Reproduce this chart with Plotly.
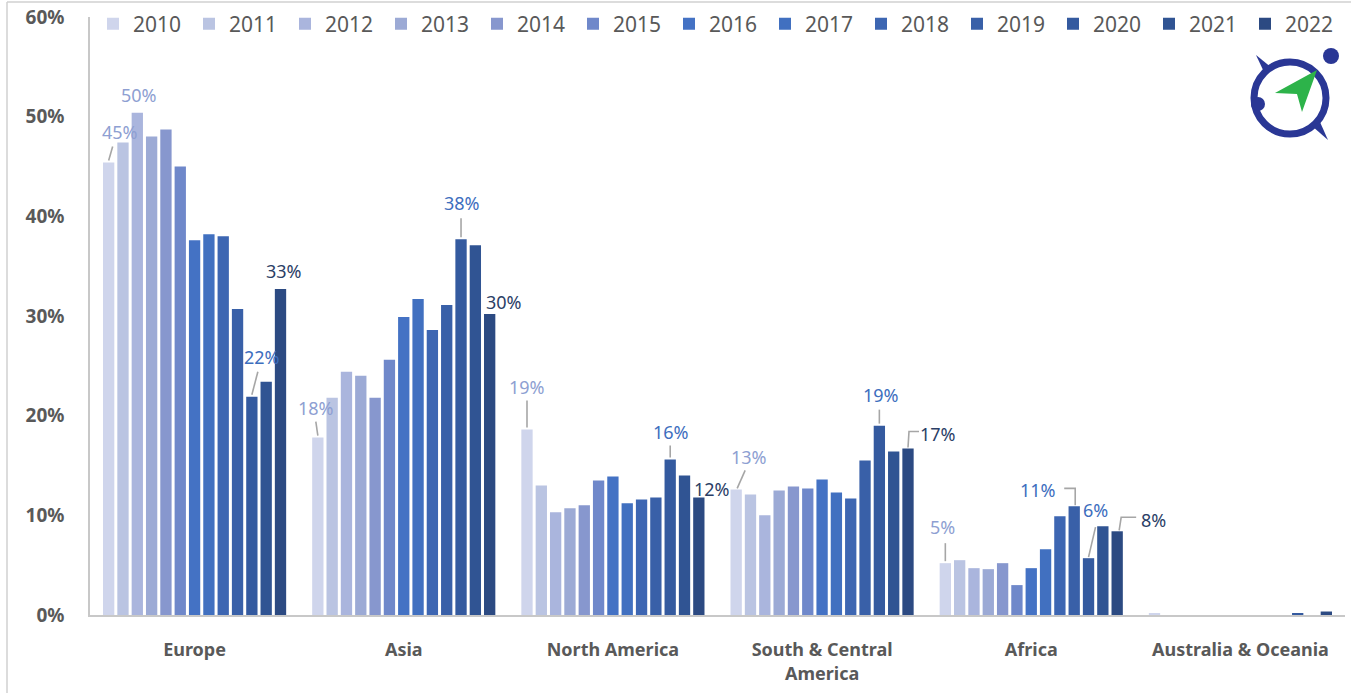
import plotly.graph_objects as go

# Share of installations by region, 2010-2022 (percent)
regions = ["Europe", "Asia", "North America", "South & Central<br>America", "Africa",
           "Australia & Oceania"]
years = ["2010", "2011", "2012", "2013", "2014", "2015", "2016",
         "2017", "2018", "2019", "2020", "2021", "2022"]

europe = [45.4, 47.4, 50.4, 48.0, 48.7, 45.0, 37.6, 38.2, 38.0, 30.7, 21.9, 23.4, 32.7]
asia = [17.8, 21.8, 24.4, 24.0, 21.8, 25.6, 29.9, 31.7, 28.6, 31.1, 37.7, 37.1, 30.2]
north_america = [18.6, 13.0, 10.3, 10.7, 11.0, 13.5, 13.9, 11.2, 11.6, 11.8, 15.6, 14.0, 11.8]
south_central_america = [12.6, 12.1, 10.0, 12.5, 12.9, 12.7, 13.6, 12.3, 11.7, 15.5, 19.0, 16.4, 16.7]
africa = [5.2, 5.5, 4.7, 4.6, 5.2, 3.0, 4.7, 6.6, 9.9, 10.9, 5.7, 8.9, 8.4]
australia_oceania = [0.12, 0.0, 0.0, 0.0, 0.0, 0.0, 0.0, 0.0, 0.0, 0.0, 0.2, 0.0, 0.35]

series_by_region = [europe, asia, north_america, south_central_america, africa,
                    australia_oceania]

year_colors = ["#CFD5EC", "#BAC4E2", "#AAB5DD", "#9CAAD5", "#8797CE", "#6F88CA", "#4472C4",
               "#4170C0", "#3D66B2", "#3960A8", "#345A9F", "#305493", "#2C4A82"]

LIGHT_LBL = "#8E9FD2"
MID_LBL = "#3D6EBE"
DARK_LBL = "#2B3E66"
LEADER = "#A6A6A6"

BARGAP = 0.11
N = len(years)

# canvas / plot-area geometry (pixels)
W, H = 1351, 693
ML, MR, MT, MB = 90, 6, 17, 78
PW, PH = W - ML - MR, H - MT - MB

# legend layout: distance between consecutive entries, and the fixed
# symbol+gap part plotly adds on top of entrywidth
LEG_PITCH = 96
LEG_FIXED = 45


def bar_x(region_idx, year_idx):
    """Centre of a grouped bar on the numeric category axis."""
    return region_idx + (-0.5 + (year_idx + 0.5) / N) * (1 - BARGAP)


def px_x(p):
    return (p - ML) / PW


def px_y(p):
    return (H - MB - p) / PH


fig = go.Figure()
x_pos = list(range(len(regions)))
for j, yr in enumerate(years):
    fig.add_trace(go.Bar(
        x=x_pos,
        y=[series[j] for series in series_by_region],
        name=yr,
        marker=dict(color=year_colors[j], line=dict(width=0)),
        legend="legend" if j < 7 else "legend2",
        hovertemplate="%{y:.1f}%<extra>" + yr + "</extra>",
    ))

# Data labels: (region, year, label dx, label dy, leader path in px from bar top, colour)
labels = [
    (0, 0, 11, 31, "M0,2 L4,16", LIGHT_LBL),
    (0, 2, 2, 18, None, LIGHT_LBL),
    (0, 10, 10, 40, "M0,2 L6,25", MID_LBL),
    (0, 12, 3, 18, None, DARK_LBL),
    (1, 0, -2, 30, "M0,2 L-2,16", LIGHT_LBL),
    (1, 10, 1, 36, "M0,2 L0,21", MID_LBL),
    (1, 12, 14, 12, None, DARK_LBL),
    (2, 0, 0, 43, "M0,2 L0,29", LIGHT_LBL),
    (2, 10, 1, 28, "M0,2 L0,14", MID_LBL),
    (2, 12, 13, 8, None, DARK_LBL),
    (3, 0, 13, 32, "M1,1 L9,19", LIGHT_LBL),
    (3, 10, 2, 31, "M0,2 L0,16", MID_LBL),
    (3, 12, 30, 15, "M0,1 L1,17 L11,17", DARK_LBL),
    (4, 0, -3, 36, "M0,2 L0,20", LIGHT_LBL),
    (4, 9, -36, 16, "M1,1 L1,18 L-10,18", MID_LBL),
    (4, 10, 7, 48, "M0,1 L7,31", MID_LBL),
    (4, 12, 36, 11, "M2,1 L4,14 L19,14", DARK_LBL),
]

annotations = []
shapes = []
for r, j, dx, dy, path, col in labels:
    xv = bar_x(r, j)
    yv = series_by_region[r][j]
    annotations.append(dict(
        x=xv, y=yv, xref="x", yref="y", text=f"{round(yv)}%", showarrow=False,
        xshift=dx, yshift=dy, xanchor="center", yanchor="middle",
        font=dict(size=18, color=col, family="Noto Sans"),
    ))
    if path:
        shapes.append(dict(
            type="path", xref="x", yref="y", xsizemode="pixel", ysizemode="pixel",
            xanchor=xv, yanchor=yv, path=path,
            line=dict(color=LEADER, width=1.6),
        ))

# thin frame on the top and left edges
shapes.append(dict(type="line", xref="paper", yref="paper",
                   x0=px_x(7), x1=px_x(W), y0=px_y(2), y1=px_y(2),
                   line=dict(color="#D0D0D0", width=1.5)))
shapes.append(dict(type="line", xref="paper", yref="paper",
                   x0=px_x(7), x1=px_x(7), y0=px_y(2), y1=px_y(H),
                   line=dict(color="#D0D0D0", width=1.5)))

# logo: orbit ring, two nodes, green pointer
LOGO_BLUE = "#2A3795"
shapes.append(dict(type="circle", xref="paper", yref="paper",
                   x0=px_x(1254), x1=px_x(1326), y0=px_y(134), y1=px_y(62),
                   line=dict(color=LOGO_BLUE, width=7)))
for cx, cy, rr in [(1331, 56, 8), (1258, 104, 7)]:
    shapes.append(dict(type="circle", xref="paper", yref="paper",
                       x0=px_x(cx - rr), x1=px_x(cx + rr), y0=px_y(cy + rr), y1=px_y(cy - rr),
                       fillcolor=LOGO_BLUE, line=dict(width=0)))


def ppath(points):
    return "M " + " L ".join(f"{px_x(a):.5f},{px_y(b):.5f}" for a, b in points) + " Z"


shapes.append(dict(type="path", xref="paper", yref="paper",
                   path=ppath([(1256, 55), (1272, 68), (1264, 72)]),
                   fillcolor=LOGO_BLUE, line=dict(width=0)))
shapes.append(dict(type="path", xref="paper", yref="paper",
                   path=ppath([(1328, 140), (1312, 126), (1320, 122)]),
                   fillcolor=LOGO_BLUE, line=dict(width=0)))
shapes.append(dict(type="path", xref="paper", yref="paper",
                   path=ppath([(1275, 93), (1317, 70), (1302, 112), (1297, 94)]),
                   fillcolor="#2DB34A", line=dict(width=0)))

legend_common = dict(
    orientation="h", xanchor="left", yanchor="middle",
    entrywidth=LEG_PITCH - LEG_FIXED, entrywidthmode="pixels", itemwidth=30,
    font=dict(size=21, color="#595959", family="Noto Sans"),
    bgcolor="rgba(0,0,0,0)", tracegroupgap=0, itemclick=False,
)

LEG_X0 = 93

fig.update_layout(
    width=W, height=H,
    margin=dict(l=ML, r=MR, t=MT, b=MB, autoexpand=False),
    paper_bgcolor="white", plot_bgcolor="white",
    font=dict(family="Noto Sans", color="#595959"),
    barmode="group", bargap=BARGAP, bargroupgap=0.21,
    showlegend=True,
    legend=dict(x=px_x(LEG_X0), y=px_y(24), **legend_common),
    legend2=dict(x=px_x(LEG_X0 + 7 * LEG_PITCH), y=px_y(24), **legend_common),
    xaxis=dict(
        range=[-0.5, len(regions) - 0.5], tickmode="array", tickvals=x_pos, ticktext=regions,
        showline=True, linecolor="#C8C8C8", linewidth=1.5, showgrid=False, zeroline=False,
        ticks="", ticklabelstandoff=18,
        tickfont=dict(size=18, color="#595959", family="Noto Sans", weight="bold"),
        fixedrange=True,
    ),
    yaxis=dict(
        range=[0, 60], dtick=10, ticksuffix="%", showline=True, linecolor="#C8C8C8",
        linewidth=1.5, showgrid=False, zeroline=False, ticks="", ticklabelstandoff=20,
        tickfont=dict(size=19, color="#595959", family="Noto Sans", weight="bold"),
        fixedrange=True,
    ),
    annotations=annotations,
    shapes=shapes,
)

fig.write_html("out.html")
